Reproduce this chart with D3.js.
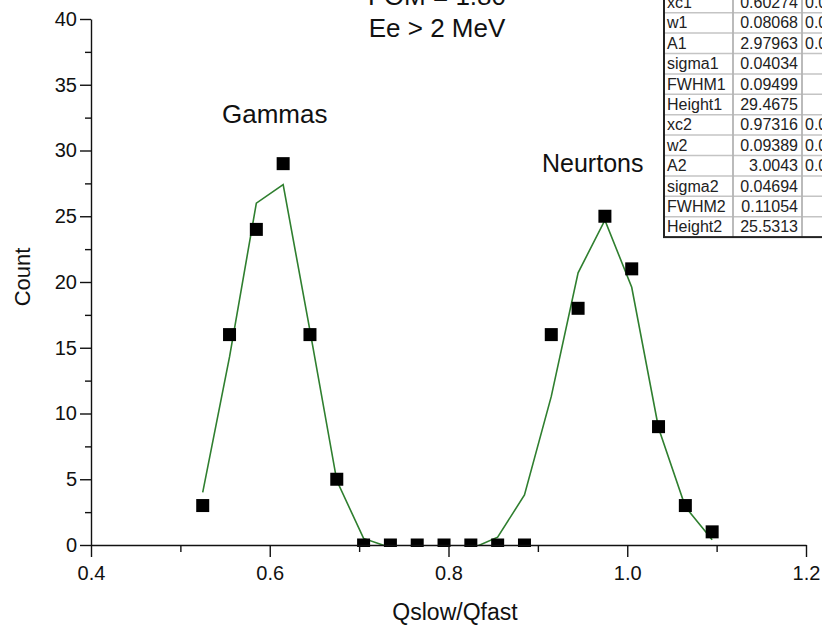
<!DOCTYPE html>
<html lang="en">
<head>
<meta charset="utf-8" />
<title>Qslow/Qfast PSD</title>
<script src="https://cdn.jsdelivr.net/npm/d3@7/dist/d3.min.js"></script>
<style>
  body { margin: 0; background: #fff; }
  svg { display: block; font-family: "Liberation Sans", Arial, sans-serif; }
</style>
</head>
<body>
<div id="chart"></div>
<script>
// measured points (bin centres and counts)
var qBins = [0.525, 0.555, 0.585, 0.615, 0.645, 0.675, 0.705, 0.735, 0.765, 0.795,
             0.825, 0.855, 0.885, 0.915, 0.945, 0.975, 1.005, 1.035, 1.065, 1.095];
var counts = [3, 16, 24, 29, 16, 5, 0, 0, 0, 0, 0, 0, 0, 16, 18, 25, 21, 9, 3, 1];
// fitted curve, read at the same bins
var fitCounts = [4.0, 14.3, 26.0, 27.4, 16.3, 4.9, 0.5, -0.2, -0.3, -0.3,
                 -0.3, 0.6, 3.8, 11.3, 20.7, 24.7, 19.6, 8.9, 2.9, 0.4];

var xTicks = [0.4, 0.6, 0.8, 1.0, 1.2];
var xMinor = [0.5, 0.7, 0.9, 1.1];
var yTicks = [0, 5, 10, 15, 20, 25, 30, 35, 40];
var yMinor = [2.5, 7.5, 12.5, 17.5, 22.5, 27.5, 32.5, 37.5];

// fit results table
var paramNames = ["xc1", "w1", "A1", "sigma1", "FWHM1", "Height1",
                  "xc2", "w2", "A2", "sigma2", "FWHM2", "Height2"];
var paramValues = ["0.60274", "0.08068", "2.97963", "0.04034", "0.09499", "29.4675",
                   "0.97316", "0.09389", "3.0043", "0.04694", "0.11054", "25.5313"];
var paramErrors = ["0.0", "0.0", "0.0", "", "", "", "0.0", "0.0", "0.0", "", "", ""];

var width = 822, height = 625;
var plotL = 91, plotR = 806, plotT = 19, plotB = 545;

var svg = d3.select("#chart").append("svg")
  .attr("width", width)
  .attr("height", height);

var x = d3.scaleLinear().domain([0.4, 1.2]).range([plotL, plotR]);
var y = d3.scaleLinear().domain([0, 40]).range([plotB, plotT]);

svg.append("clipPath").attr("id", "plotclip")
  .append("rect")
  .attr("x", plotL).attr("y", plotT)
  .attr("width", plotR - plotL).attr("height", plotB - plotT);

svg.append("clipPath").attr("id", "markclip")
  .append("rect")
  .attr("x", plotL).attr("y", 0)
  .attr("width", plotR - plotL).attr("height", plotB + 2);

// fit line
var line = d3.line()
  .x(function (d, i) { return x(qBins[i]); })
  .y(function (d) { return y(d); });

svg.append("path")
  .datum(fitCounts)
  .attr("clip-path", "url(#plotclip)")
  .attr("fill", "none")
  .attr("stroke", "#2f7f2f")
  .attr("stroke-width", 1.6)
  .attr("d", line);

// data squares
var sq = 13;
svg.append("g")
  .attr("clip-path", "url(#markclip)")
  .selectAll("rect")
  .data(counts)
  .enter()
  .append("rect")
  .attr("x", function (d, i) { return x(qBins[i]) - sq / 2; })
  .attr("y", function (d) { return y(d) - sq / 2; })
  .attr("width", sq)
  .attr("height", sq)
  .attr("fill", "#000");

// axes
svg.append("g")
  .attr("transform", "translate(0," + plotB + ")")
  .call(d3.axisBottom(x).tickValues(xTicks).tickSize(12).tickSizeOuter(0)
    .tickPadding(9).tickFormat(d3.format(".1f")));
svg.append("g")
  .attr("transform", "translate(0," + plotB + ")")
  .call(d3.axisBottom(x).tickValues(xMinor).tickSize(7).tickSizeOuter(0).tickFormat(""))
  .select(".domain").remove();

svg.append("g")
  .attr("transform", "translate(" + plotL + ",0)")
  .call(d3.axisLeft(y).tickValues(yTicks).tickSize(11).tickSizeOuter(0).tickPadding(3));
svg.append("g")
  .attr("transform", "translate(" + plotL + ",0)")
  .call(d3.axisLeft(y).tickValues(yMinor).tickSize(6).tickSizeOuter(0).tickFormat(""))
  .select(".domain").remove();

svg.selectAll(".domain, .tick line")
  .attr("stroke", "#111")
  .attr("stroke-width", 1.4);
svg.selectAll(".tick text")
  .attr("fill", "#111")
  .style("font-family", "'Liberation Sans', Arial, sans-serif")
  .style("font-size", "20px");

// axis titles
svg.append("text")
  .attr("x", 455)
  .attr("y", 620)
  .attr("text-anchor", "middle")
  .style("font-size", "23px")
  .attr("fill", "#111")
  .text("Qslow/Qfast");

svg.append("text")
  .attr("transform", "translate(30,277) rotate(-90)")
  .attr("text-anchor", "middle")
  .style("font-size", "22px")
  .attr("fill", "#111")
  .text("Count");

// annotations
svg.append("text").attr("x", 437).attr("y", 5).attr("text-anchor", "middle")
  .style("font-size", "26px").attr("fill", "#111").text("FOM = 1.80");
svg.append("text").attr("x", 437).attr("y", 37).attr("text-anchor", "middle")
  .style("font-size", "26px").attr("fill", "#111").text("Ee > 2 MeV");
svg.append("text").attr("x", 222).attr("y", 123)
  .style("font-size", "26px").attr("fill", "#111").text("Gammas");
svg.append("text").attr("x", 542).attr("y", 172)
  .style("font-size", "25px").attr("fill", "#111").text("Neurtons");

// parameter table
var tx = 664, rowH = 20.4, ty = 12.7 - rowH;
var colX = [tx, tx + 69, tx + 138, tx + 190];
var table = svg.append("g");

table.append("rect")
  .attr("x", tx).attr("y", ty)
  .attr("width", colX[3] - tx).attr("height", rowH * paramNames.length)
  .attr("fill", "#fff");

table.selectAll(".hline")
  .data(d3.range(1, paramNames.length))
  .enter().append("line")
  .attr("x1", tx).attr("x2", colX[3])
  .attr("y1", function (d) { return ty + d * rowH; })
  .attr("y2", function (d) { return ty + d * rowH; })
  .attr("stroke", "#c4c4c4").attr("stroke-width", 1.5);

table.selectAll(".vline")
  .data([colX[1], colX[2]])
  .enter().append("line")
  .attr("x1", function (d) { return d; }).attr("x2", function (d) { return d; })
  .attr("y1", ty).attr("y2", ty + rowH * paramNames.length)
  .attr("stroke", "#b4b4b4").attr("stroke-width", 1.8);

table.append("rect")
  .attr("x", tx).attr("y", ty)
  .attr("width", colX[3] - tx).attr("height", rowH * paramNames.length)
  .attr("fill", "none").attr("stroke", "#222").attr("stroke-width", 2);

var rows = table.selectAll(".row")
  .data(paramNames)
  .enter().append("g")
  .attr("transform", function (d, i) { return "translate(0," + (ty + i * rowH + rowH / 2 + 5.5) + ")"; })
  .style("font-size", "16px")
  .attr("fill", "#222");

rows.append("text").attr("x", tx + 3).text(function (d) { return d; });
rows.append("text").attr("x", colX[2] - 4).attr("text-anchor", "end")
  .text(function (d, i) { return paramValues[i]; });
rows.append("text").attr("x", colX[2] + 3)
  .text(function (d, i) { return paramErrors[i]; });
</script>
</body>
</html>
